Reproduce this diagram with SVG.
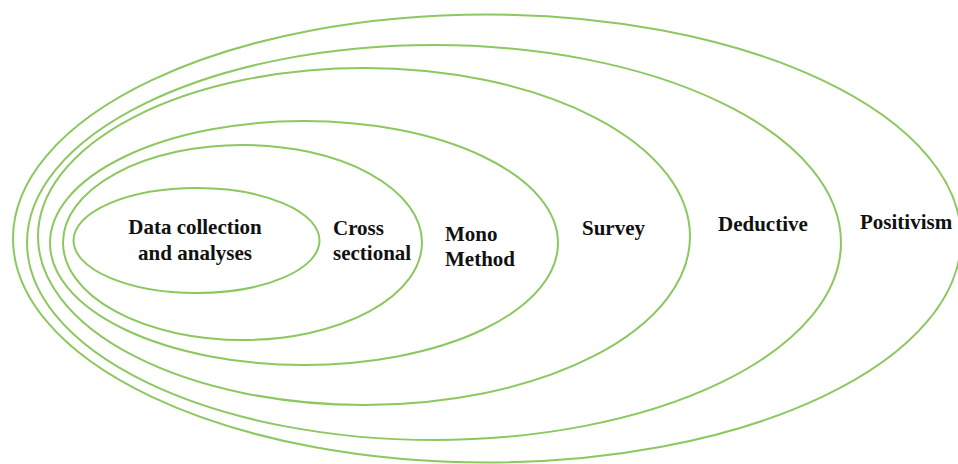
<svg xmlns="http://www.w3.org/2000/svg" width="958" height="464" viewBox="0 0 958 464">
<style>
.ring{fill:none;stroke:#8cc760;stroke-width:2}
.lbl{font-weight:bold;font-size:21px;fill:#111}
</style>
<rect width="958" height="464" fill="#fff"/>
<g font-family="'Liberation Serif', 'DejaVu Serif', serif">
<g id="positivism">
<ellipse class="ring" cx="487" cy="238.5" rx="474" ry="224"/>
<text class="lbl" x="860" y="229">Positivism</text>
</g>
<g id="deductive">
<ellipse class="ring" cx="434" cy="242.5" rx="407" ry="197.5"/>
<text class="lbl" x="718" y="231">Deductive</text>
</g>
<g id="survey">
<ellipse class="ring" cx="364" cy="236.5" rx="326" ry="168.5"/>
<text class="lbl" x="582" y="235">Survey</text>
</g>
<g id="mono-method">
<ellipse class="ring" cx="304" cy="243" rx="254" ry="122"/>
<text class="lbl" x="445" y="241">Mono</text>
<text class="lbl" x="445" y="266">Method</text>
</g>
<g id="cross-sectional">
<ellipse class="ring" cx="242.5" cy="242.5" rx="179.5" ry="97.5"/>
<text class="lbl" x="333" y="235">Cross</text>
<text class="lbl" x="333" y="260">sectional</text>
</g>
<g id="data-collection">
<ellipse class="ring" cx="196.5" cy="240.5" rx="123" ry="52.5"/>
<text class="lbl" x="195" y="234" text-anchor="middle">Data collection</text>
<text class="lbl" x="195" y="260" text-anchor="middle">and analyses</text>
</g>
</g>
<g id="connectors"></g>
</svg>
